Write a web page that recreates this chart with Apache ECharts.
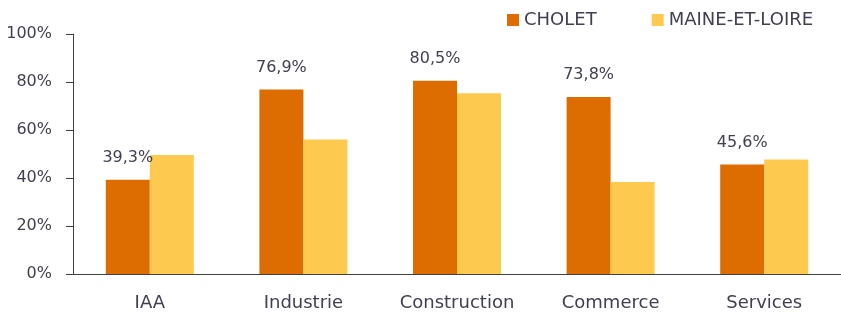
<!DOCTYPE html>
<html>
<head>
<meta charset="utf-8">
<script src="https://cdn.jsdelivr.net/npm/echarts@6/dist/echarts.min.js"></script>
<style>html,body{margin:0;padding:0;background:#fff}#c{width:841px;height:312px}</style>
</head>
<body>
<div id="c"></div>
<script>
const categories = ['IAA', 'Industrie', 'Construction', 'Commerce', 'Services'];
const cholet = [39.3, 76.9, 80.5, 73.8, 45.6];
const maineEtLoire = [49.6, 56.0, 75.3, 38.3, 47.7];
const seriesNames = ['CHOLET', 'MAINE-ET-LOIRE'];

const textColor = '#404052';
const font = 'DejaVu Sans';
const chart = echarts.init(document.getElementById('c'), null, {renderer: 'canvas'});
chart.setOption({
  animation: false,
  textStyle: {fontFamily: font},
  legend: {
    left: 507, top: 11, padding: 0,
    itemWidth: 12, itemHeight: 12, itemGap: 55,
    icon: 'rect',
    textStyle: {color: textColor, fontSize: 18, fontFamily: font},
    data: seriesNames
  },
  grid: {left: 73, right: -3, top: 34, bottom: 38, containLabel: false},
  xAxis: {
    type: 'category',
    data: categories,
    axisLine: {lineStyle: {color: '#404040', width: 1}},
    axisTick: {length: 6, lineStyle: {color: '#404040'}},
    axisLabel: {color: textColor, fontSize: 18, margin: 20, fontFamily: font}
  },
  yAxis: {
    type: 'value',
    min: 0, max: 100, interval: 20,
    axisLine: {show: true, lineStyle: {color: '#404040', width: 1}},
    axisTick: {show: true, length: 7, lineStyle: {color: '#404040'}},
    splitLine: {show: false},
    axisLabel: {color: textColor, fontSize: 16, margin: 21, fontFamily: font, formatter: v => v + '%'}
  },
  series: [
    {
      name: seriesNames[0], type: 'bar', data: cholet,
      barWidth: 44, barGap: '0%',
      itemStyle: {color: '#DD6D00'},
      label: {show: true, position: 'top', distance: 14, color: textColor, fontSize: 16, fontFamily: font,
        formatter: p => p.value.toFixed(1).replace('.', ',') + '%'}
    },
    {
      name: seriesNames[1], type: 'bar', data: maineEtLoire,
      barWidth: 44, barGap: '0%',
      itemStyle: {color: '#FDC94E'}
    }
  ]
});
</script>
</body>
</html>
